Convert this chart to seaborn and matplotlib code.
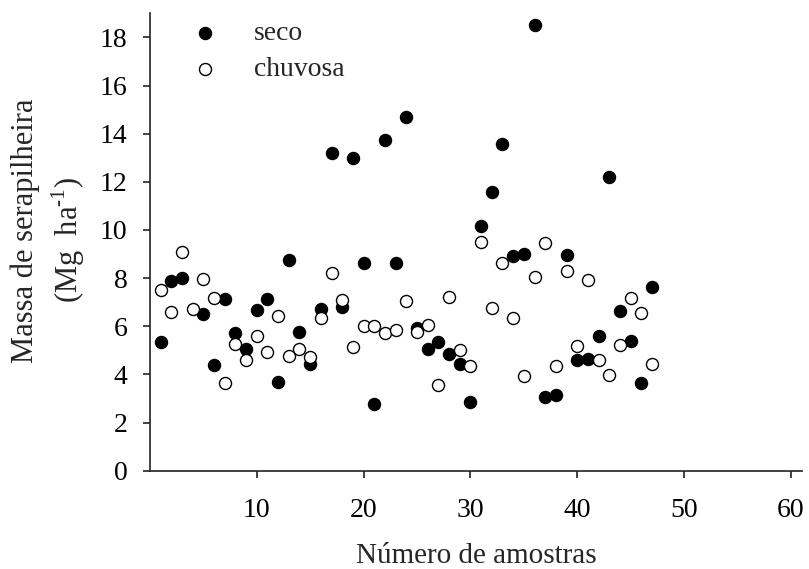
import matplotlib
matplotlib.use("Agg")
import matplotlib.pyplot as plt
import seaborn as sns
import pandas as pd
import numpy as np

# ---- data ----
seco_x = [1, 2, 3, 5, 6, 7, 8, 9, 10, 11, 12, 13, 14, 15, 16, 17, 18, 19, 20,
          21, 22, 23, 24, 25, 26, 27, 28, 29, 30, 31, 32, 33, 34, 35, 36, 37,
          38, 39, 40, 41, 42, 43, 44, 45, 46, 47]
seco_y = [5.33, 7.87, 8.01, 6.49, 4.40, 7.14, 5.70, 5.06, 6.67, 7.14, 3.70,
          8.77, 5.77, 4.44, 6.72, 13.19, 6.79, 13.00, 8.64, 2.76, 13.73, 8.61,
          14.71, 5.93, 5.06, 5.33, 4.86, 4.43, 2.87, 10.17, 11.57, 13.57, 8.92,
          9.00, 18.50, 3.06, 3.15, 8.94, 4.60, 4.64, 5.58, 12.18, 6.65, 5.39,
          3.65, 7.63]
chuvosa_x = list(range(1, 48))
chuvosa_y = [7.49, 6.60, 9.08, 6.72, 7.97, 7.17, 3.63, 5.28, 4.60, 5.61, 4.92,
             6.42, 4.78, 5.06, 4.74, 6.35, 8.22, 7.11, 5.15, 5.99, 5.99, 5.71,
             5.86, 7.06, 5.75, 6.07, 3.56, 7.22, 5.03, 4.36, 9.52, 6.75, 8.64,
             6.35, 3.93, 8.04, 9.47, 4.33, 8.31, 5.20, 7.92, 4.60, 3.96, 5.24,
             7.17, 6.56, 4.44]
x_ticks = [10, 20, 30, 40, 50, 60]
y_ticks = [0, 2, 4, 6, 8, 10, 12, 14, 16, 18]

sns.set_style("ticks")
plt.rcParams['font.family'] = ['Liberation Serif', 'DejaVu Serif']
plt.rcParams['mathtext.fontset'] = 'custom'
plt.rcParams['mathtext.rm'] = 'Liberation Serif'

fig = plt.figure(figsize=(8.09, 5.69), dpi=100)
ax = fig.add_axes([0.1852, 0.1728, 0.991 - 0.1852, 0.9766 - 0.1728])

df_s = pd.DataFrame({"x": seco_x, "y": seco_y})
df_c = pd.DataFrame({"x": chuvosa_x, "y": chuvosa_y})

sns.scatterplot(data=df_s, x="x", y="y", ax=ax, s=75, color="black",
                edgecolor="black", linewidth=1.0, label="seco", zorder=3)
sns.scatterplot(data=df_c, x="x", y="y", ax=ax, s=75, color="white",
                edgecolor="black", linewidth=1.0, label="chuvosa", zorder=4)

ax.set_xlim(0, 61)
ax.set_ylim(0, 19)
ax.set_xticks(x_ticks)
ax.set_yticks(y_ticks)
ax.set_xlabel("")
ax.set_ylabel("")
for s in ["top", "right"]:
    ax.spines[s].set_visible(False)
for s in ["left", "bottom"]:
    ax.spines[s].set_linewidth(1.2)
    ax.spines[s].set_color("#222222")
ax.tick_params(axis="both", direction="out", length=5, width=1.2,
               labelsize=20, colors="#222222", labelcolor="black")
ax.tick_params(axis="y", pad=11)
ax.tick_params(axis="x", pad=15)

leg = ax.legend(loc="upper left", bbox_to_anchor=(191 / 809, 1 - 21 / 569),
                bbox_transform=fig.transFigure, frameon=False, fontsize=20,
                handlelength=1.0, handletextpad=1.26, labelspacing=0.38,
                borderpad=0, borderaxespad=0, scatterpoints=1)

fig.text(476 / 809, 1 - 556 / 569, "Número de amostras", ha="center",
         va="center", fontsize=21)
fig.text(33 / 809, 1 - 231 / 569, "Massa de serapilheira", ha="center",
         va="baseline", rotation=90, rotation_mode="anchor", fontsize=22)
fig.text(78 / 809, 1 - 240 / 569, "(Mg  ha$^{\\text{-1}}$)", ha="center",
         va="baseline", rotation=90, rotation_mode="anchor", fontsize=22)

fig.savefig("out.png", dpi=100)
